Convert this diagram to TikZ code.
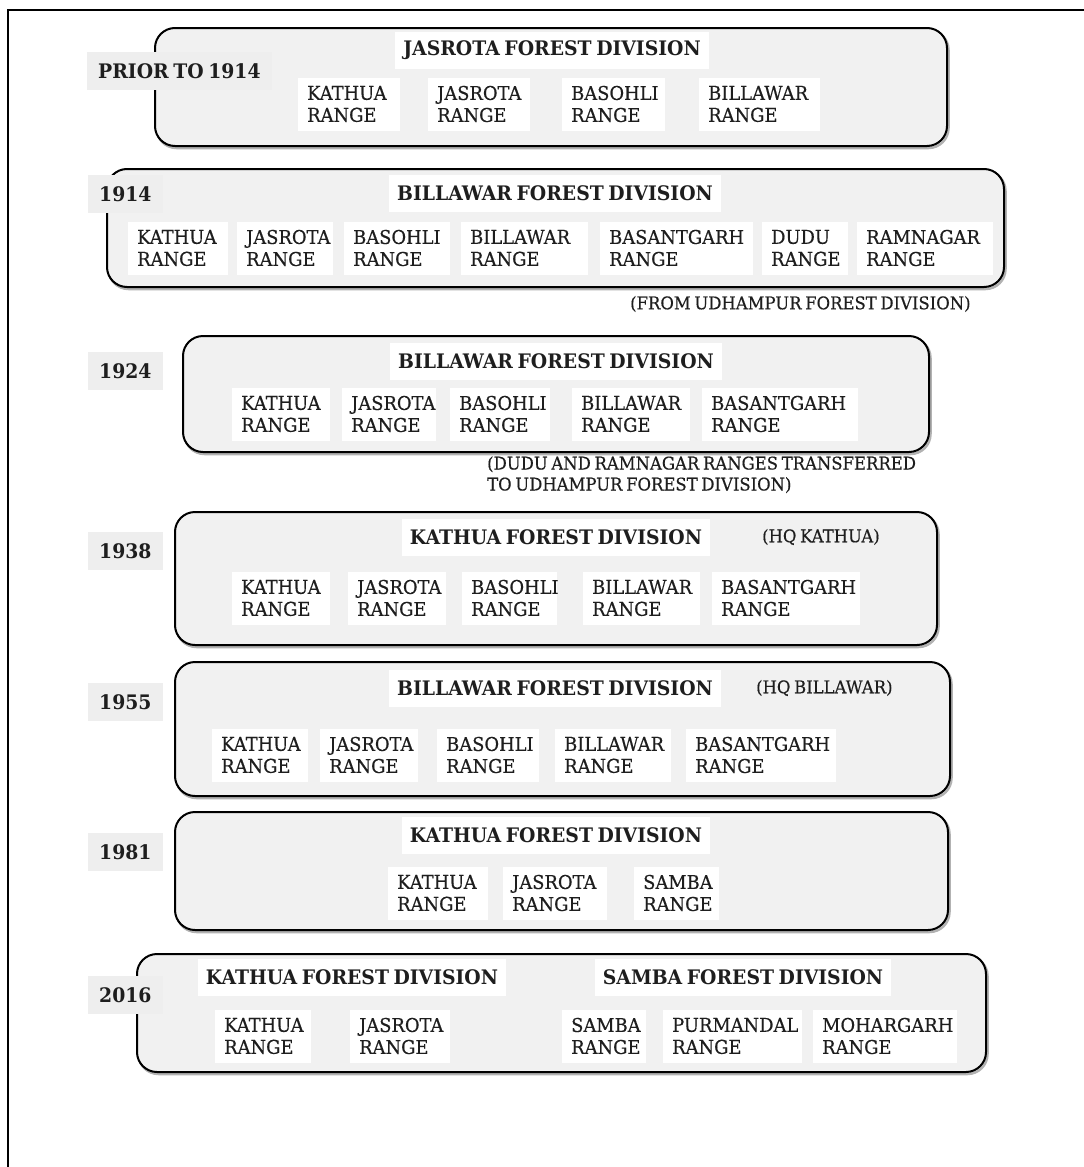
\documentclass[tikz,border=0pt]{standalone}
\usepackage{fontspec}
\setmainfont[FakeStretch=0.94, WordSpace=0.7]{DejaVu Serif}
\definecolor{boxgray}{HTML}{F1F1F1}
\definecolor{yeargray}{HTML}{EEEEEE}
\definecolor{txt}{HTML}{1E1E1E}
\tikzset{
  bigbox/.style={draw=black, line width=2pt, fill=boxgray, rounded corners=20pt},
  shadowbox/.style={draw=black!30, line width=2.5pt, rounded corners=20pt},
  rng/.style={fill=white, inner xsep=9pt, inner ysep=0pt, minimum height=53pt, align=left,
    font=\fontsize{19}{22}\selectfont\addfontfeature{FakeBold=0.4}, text=txt},
  ttl/.style={fill=white, inner xsep=8pt, inner ysep=0pt, minimum height=37pt,
    font=\bfseries\fontsize{20}{22}\selectfont, text=txt},
  yr/.style={fill=yeargray, inner xsep=11pt, inner ysep=0pt, minimum height=38pt,
    font=\bfseries\fontsize{20}{22}\selectfont, text=txt, anchor=west},
  note/.style={font=\fontsize{17.5}{21}\selectfont\addfontfeature{FakeBold=0.4}, align=left, text=txt, inner sep=0pt},
}
\newcommand\rangebox[5]{%
  \pgfmathsetmacro\rtw{#3-#2-18}%
  \node[rng, anchor=west, text width=\rtw pt] (#1) at (#2,#4) {#5\\RANGE};}
\newcommand\bigpanel[4]{%
  \draw[shadowbox] (#1+1.5,#2+2) rectangle (#3+1.5,#4+2);
  \draw[bigbox] (#1,#2) rectangle (#3,#4);}
\begin{document}
\begin{tikzpicture}[x=1pt,y=-1pt]
\useasboundingbox (0,0) rectangle (1084,1167);
\fill[white] (0,0) rectangle (1084,1167);
\draw[line width=2pt] (8,1180) -- (8,10) -- (1095,10);

% ---------- prior to 1914
\bigpanel{155}{28}{947}{146}
\node[yr] (y1) at (87,71) {PRIOR TO 1914};
\node[ttl] (t1) at (552,50) {JASROTA FOREST DIVISION};
\rangebox{a1}{298}{400}{104}{KATHUA}
\rangebox{a2}{428}{530}{104}{JASROTA}
\rangebox{a3}{562}{665}{104}{BASOHLI}
\rangebox{a4}{699}{820}{104}{BILLAWAR}

% ---------- 1914
\bigpanel{107}{169}{1004}{287}
\node[yr] (y2) at (88,194) {1914};
\node[ttl] (t2) at (555,193) {BILLAWAR FOREST DIVISION};
\rangebox{b1}{128}{228}{248}{KATHUA}
\rangebox{b2}{237}{333}{248}{JASROTA}
\rangebox{b3}{344}{450}{248}{BASOHLI}
\rangebox{b4}{461}{588}{248}{BILLAWAR}
\rangebox{b5}{600}{753}{248}{BASANTGARH}
\rangebox{b6}{762}{848}{248}{DUDU}
\rangebox{b7}{857}{993}{248}{RAMNAGAR}
\node[note, anchor=west] (n2) at (630,304) {(FROM UDHAMPUR FOREST DIVISION)};

% ---------- 1924
\bigpanel{183}{336}{929}{452}
\node[yr] (y3) at (88,371) {1924};
\node[ttl] (t3) at (556,361) {BILLAWAR FOREST DIVISION};
\rangebox{c1}{232}{330}{414}{KATHUA}
\rangebox{c2}{342}{436}{414}{JASROTA}
\rangebox{c3}{450}{550}{414}{BASOHLI}
\rangebox{c4}{572}{690}{414}{BILLAWAR}
\rangebox{c5}{702}{858}{414}{BASANTGARH}
\node[note, anchor=north west] (n3) at (487,456) {(DUDU AND RAMNAGAR RANGES TRANSFERRED\\TO UDHAMPUR FOREST DIVISION)};

% ---------- 1938
\bigpanel{175}{512}{937}{645}
\node[yr] (y4) at (88,551) {1938};
\node[ttl] (t4) at (556,537) {KATHUA FOREST DIVISION};
\node[note, anchor=west] (h4) at (762,537) {(HQ KATHUA)};
\rangebox{d1}{232}{330}{598}{KATHUA}
\rangebox{d2}{348}{446}{598}{JASROTA}
\rangebox{d3}{462}{557}{598}{BASOHLI}
\rangebox{d4}{583}{700}{598}{BILLAWAR}
\rangebox{d5}{712}{860}{598}{BASANTGARH}

% ---------- 1955
\bigpanel{175}{662}{950}{796}
\node[yr] (y5) at (88,702) {1955};
\node[ttl] (t5) at (555,688) {BILLAWAR FOREST DIVISION};
\node[note, anchor=west] (h5) at (756,688) {(HQ BILLAWAR)};
\rangebox{e1}{212}{308}{755}{KATHUA}
\rangebox{e2}{320}{418}{755}{JASROTA}
\rangebox{e3}{437}{539}{755}{BASOHLI}
\rangebox{e4}{555}{671}{755}{BILLAWAR}
\rangebox{e5}{686}{836}{755}{BASANTGARH}

% ---------- 1981
\bigpanel{175}{812}{948}{930}
\node[yr] (y6) at (88,852) {1981};
\node[ttl] (t6) at (556,835) {KATHUA FOREST DIVISION};
\rangebox{f1}{388}{488}{893}{KATHUA}
\rangebox{f2}{503}{607}{893}{JASROTA}
\rangebox{f3}{634}{719}{893}{SAMBA}

% ---------- 2016
\bigpanel{137}{954}{986}{1072}
\node[yr] (y7) at (88,995) {2016};
\node[ttl] (t7a) at (352,977) {KATHUA FOREST DIVISION};
\node[ttl] (t7b) at (743,977) {SAMBA FOREST DIVISION};
\rangebox{g1}{215}{311}{1036}{KATHUA}
\rangebox{g2}{350}{450}{1036}{JASROTA}
\rangebox{g3}{562}{646}{1036}{SAMBA}
\rangebox{g4}{663}{802}{1036}{PURMANDAL}
\rangebox{g5}{813}{957}{1036}{MOHARGARH}
\end{tikzpicture}
\end{document}
